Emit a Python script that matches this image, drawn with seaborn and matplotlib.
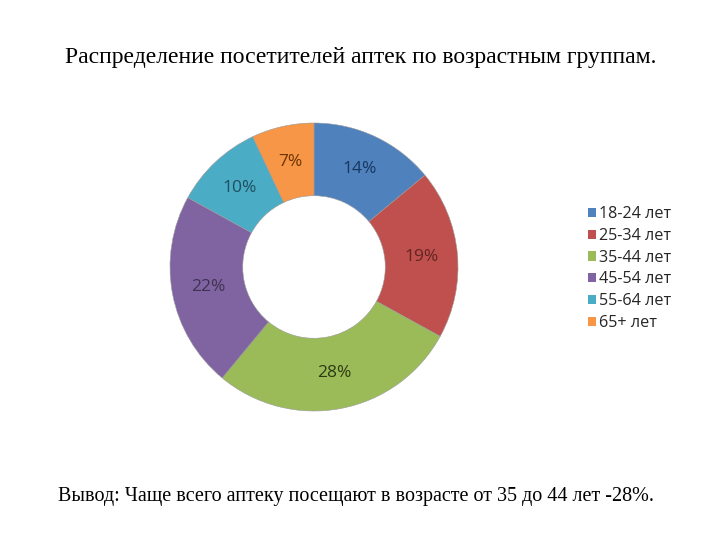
import matplotlib
matplotlib.use("Agg")
import matplotlib.pyplot as plt
import seaborn as sns

categories = ["18-24 лет", "25-34 лет", "35-44 лет", "45-54 лет", "55-64 лет", "65+ лет"]
values = [14, 19, 28, 22, 10, 7]
colors = ["#4F81BD", "#C0504D", "#9BBB59", "#8064A2", "#4BACC6", "#F79646"]
label_colors = ["#17375E", "#632523", "#2C3A12", "#3F3151", "#1F4F5E", "#6B3304"]
title = "Распределение посетителей аптек по возрастным группам."
footer = "Вывод: Чаще всего аптеку посещают в возрасте от 35 до 44 лет -28%."

sns.set_theme(style="white")
plt.rcParams["font.family"] = ["Open Sans", "DejaVu Sans"]

fig = plt.figure(figsize=(7.2, 5.4), dpi=100)
fig.patch.set_facecolor("white")
cx, cy, r = 314, 267, 144
ax = fig.add_axes([(cx - r) / 720, (540 - cy - r) / 540, 2 * r / 720, 2 * r / 540])
wedges, texts, autotexts = ax.pie(
    values, colors=colors, startangle=90, counterclock=False, radius=1.0,
    wedgeprops=dict(width=0.505, edgecolor="#9a9a9a", linewidth=0.4),
    autopct=lambda p: f"{p:.0f}%", pctdistance=0.75,
    textprops=dict(fontsize=12.5),
)
for t, c in zip(autotexts, label_colors):
    t.set_color(c)
ax.set_xlim(-1, 1)
ax.set_ylim(-1, 1)
ax.set_aspect("equal")
ax.axis("off")

fig.text(361 / 720, 1 - 57 / 540, title, ha="center", va="center",
         fontsize=17, family=["Liberation Serif", "DejaVu Serif"], color="black")
fig.text(356 / 720, 1 - 496 / 540, footer, ha="center", va="center",
         fontsize=14.5, family=["Liberation Serif", "DejaVu Serif"], color="black")

leg = fig.legend(wedges, categories, loc="upper left",
                 bbox_to_anchor=(580 / 720, 1 - 198 / 540), frameon=False,
                 fontsize=11.6, handlelength=0.5, handleheight=0.5,
                 handletextpad=0.2, labelspacing=0.36, borderpad=0)
for h in leg.legend_handles:
    h.set_edgecolor("none")

fig.savefig("out.png", dpi=100, facecolor="white")
